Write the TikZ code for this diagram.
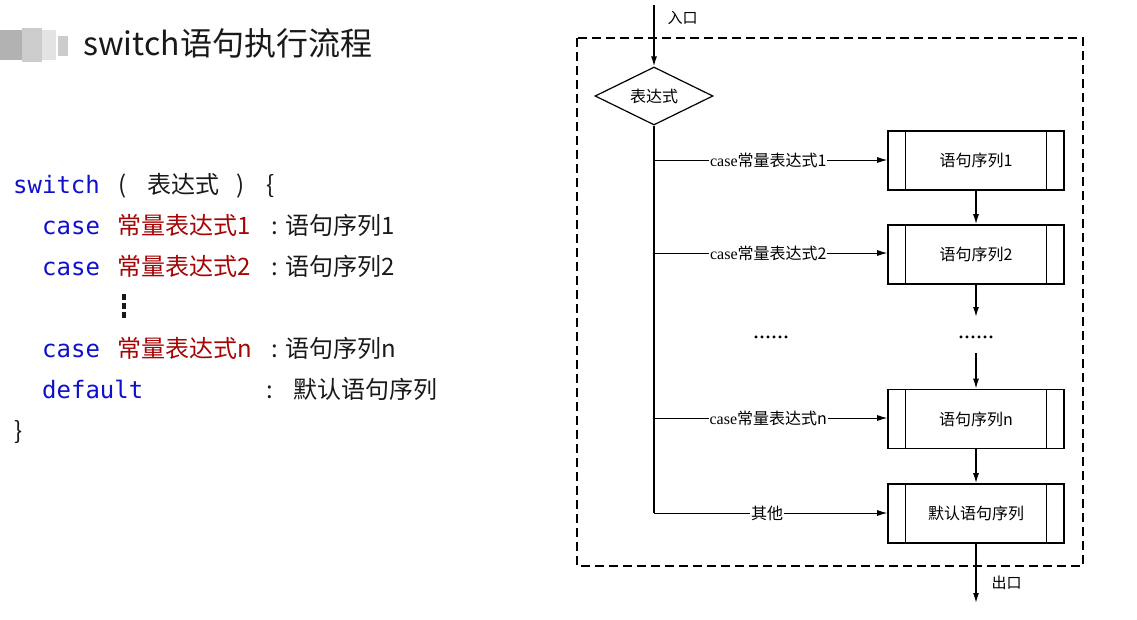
\documentclass[tikz,border=0pt]{standalone}
\usepackage{fontspec}
\setmainfont{Liberation Serif}
\newfontfamily\cjk{Noto Sans CJK SC}
\newfontfamily\codemono{DejaVu Sans Mono}
\usetikzlibrary{shapes.geometric,arrows.meta}
\definecolor{kwblue}{RGB}{15,15,205}
\definecolor{constred}{RGB}{165,5,5}
\definecolor{txtgray}{RGB}{25,25,25}
\tikzset{
  x=1pt,y=-1pt,
  flow/.style={line width=1.4pt,-{Latex[length=10pt,width=6pt]}},
  branch/.style={line width=0.9pt,-{Latex[length=10pt,width=6pt]}},
  seqbox/.style={draw,line width=1.6pt,minimum width=176pt,minimum height=59pt,inner sep=0pt,font=\fontsize{16}{16}\selectfont\cjk},
  lbl/.style={fill=white,inner sep=1pt,font=\fontsize{16}{16}\selectfont\cjk},
  code/.style={anchor=base west,inner sep=0pt,font=\fontsize{24}{24}\selectfont\cjk,text=txtgray},
  kw/.style={code,font=\fontsize{24}{24}\selectfont\codemono,text=kwblue},
  cst/.style={code,text=constred},
  dots/.style={anchor=base,inner sep=0pt,font=\fontsize{24}{24}\selectfont},
}
\begin{document}
\begin{tikzpicture}
\useasboundingbox (0,0) rectangle (1137,619);
% blurred logo
\fill[gray!60] (0,30) rectangle (22,60);
\fill[gray!40] (22,28) rectangle (42,62);
\fill[gray!22] (42,30) rectangle (56,60);
\fill[gray!40] (58,36) rectangle (68,56);
% title
\node[anchor=base west,inner sep=0pt,font=\fontsize{32}{32}\selectfont\cjk,text=txtgray] (title) at (83,55) {switch语句执行流程};
% code
\node[kw] (sw) at (13,193) {switch};
\node[code] (lp) at (118,193) {(};
\node[code] (expr) at (147,193) {表达式};
\node[code] (rp) at (236,193) {)};
\node[code] (lb) at (266,193) {\{};
\node[kw] (c1) at (42,234) {case};
\node[cst] (k1) at (117,234) {常量表达式1};
\node[code] (q1) at (271,234) {:};
\node[code] (s1) at (285,234) {语句序列1};
\node[kw] (c2) at (42,275) {case};
\node[cst] (k2) at (117,275) {常量表达式2};
\node[code] (q2) at (271,275) {:};
\node[code] (s2) at (285,275) {语句序列2};
\draw[line width=3.5pt,dash pattern=on 6pt off 3pt,txtgray] (124,294) -- (124,320);
\node[kw] (c3) at (42,357) {case};
\node[cst] (k3) at (117,357) {常量表达式n};
\node[code] (q3) at (271,357) {:};
\node[code] (s3) at (285,357) {语句序列n};
\node[kw] (df) at (42,398) {default};
\node[code] (qd) at (266,398) {:};
\node[code] (sd) at (293,398) {默认语句序列};
\node[code] (rb) at (14,439) {\}};
% flowchart
\draw[line width=1.2pt,dash pattern=on 9pt off 5pt] (577,38) rectangle (1083,566);
\coordinate (in) at (654,5);
\node[draw,diamond,aspect=2,line width=1.2pt,minimum width=118pt,minimum height=58pt,inner sep=0pt,font=\fontsize{16}{16}\selectfont\cjk] (d) at (654,96) {表达式};
\draw[flow] (in) -- (d.north);
\node[font=\fontsize{15}{15}\selectfont\cjk,anchor=west] (inl) at (664,18) {入口};
\node[seqbox] (b1) at (976,160.5) {语句序列1};
\node[seqbox] (b2) at (976,254.5) {语句序列2};
\node[seqbox] (bn) at (976,419) {语句序列n};
\node[seqbox] (bd) at (976,513.5) {默认语句序列};
\foreach \b in {b1,b2,bn,bd}{
  \draw[line width=1pt] ([xshift=18pt]\b.north west) -- ([xshift=18pt]\b.south west);
  \draw[line width=1pt] ([xshift=-18pt]\b.north east) -- ([xshift=-18pt]\b.south east);
}
\coordinate (j1) at (654,160);
\coordinate (j2) at (654,253);
\coordinate (jn) at (654,418);
\coordinate (jd) at (654,513);
\draw[line width=1.4pt] (d.south) -- (jd);
\draw[branch] (j1) -- node[lbl,pos=0.49]{\rmfamily case\cjk 常量表达式1} (j1 -| b1.west);
\draw[branch] (j2) -- node[lbl,pos=0.49]{\rmfamily case\cjk 常量表达式2} (j2 -| b2.west);
\draw[branch] (jn) -- node[lbl,pos=0.49]{\rmfamily case\cjk 常量表达式n} (jn -| bn.west);
\draw[branch] (jd) -- node[lbl,pos=0.485]{其他} (jd -| bd.west);
\node[dots] (dl) at (771,338) {......};
\node[dots] (dr) at (976,338) {......};
\draw[flow] (b1.south) -- (b2.north);
\draw[flow] (b2.south) -- (976,317);
\draw[flow] (976,353) -- (bn.north);
\draw[flow] (bn.south) -- (bd.north);
\coordinate (out) at (976,603);
\draw[flow] (bd.south) -- (out);
\node[font=\fontsize{15}{15}\selectfont\cjk,anchor=west] (outl) at (988,583) {出口};
\end{tikzpicture}
\end{document}
